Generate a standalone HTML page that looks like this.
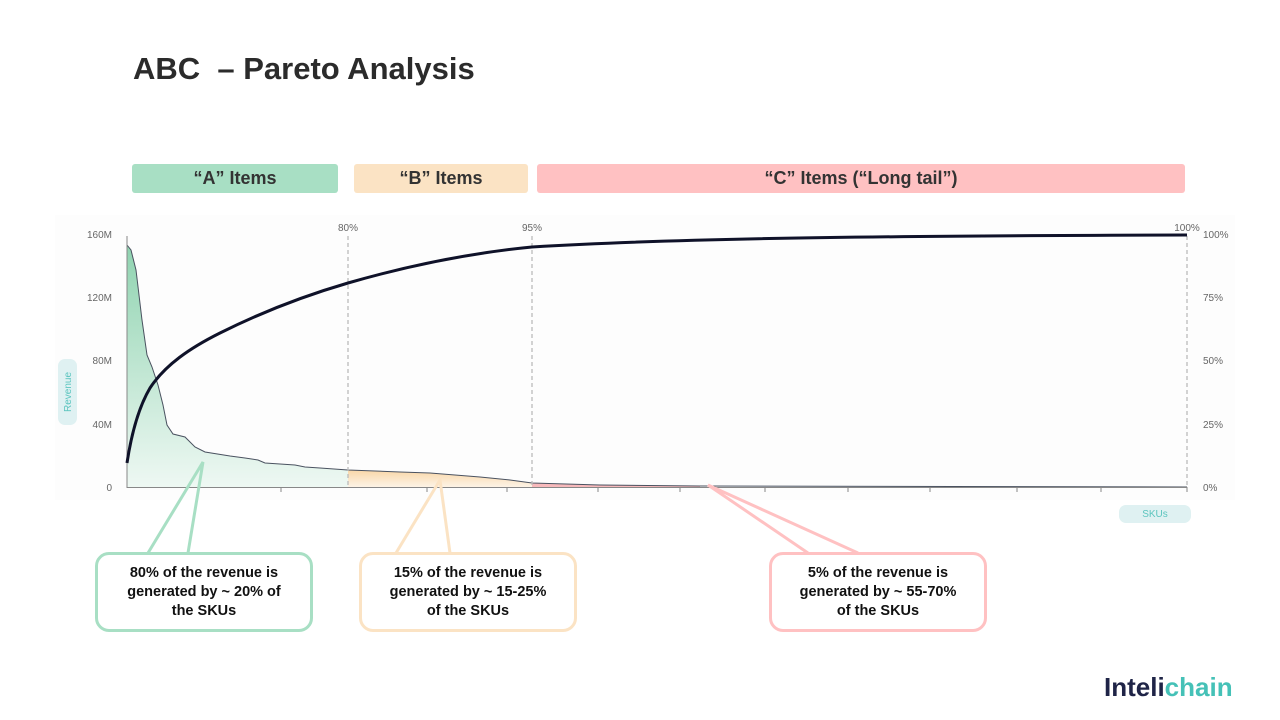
<!DOCTYPE html>
<html><head><meta charset="utf-8"><style>
body{margin:0;width:1280px;height:720px;background:#fff;font-family:"Liberation Sans",sans-serif;position:relative;overflow:hidden}
.t{position:absolute;left:133px;top:51px;font-size:31px;font-weight:bold;color:#2b2b2b}
.band{position:absolute;top:164px;height:29px;border-radius:3px;font-size:18px;font-weight:600;color:#333;text-align:center;line-height:29px}
.box{position:absolute;top:552px;width:212px;height:74px;border:3px solid;border-radius:14px;background:#fff;font-size:14.5px;font-weight:bold;color:#111;text-align:center;display:flex;align-items:center;justify-content:center;line-height:19px}
.logo{position:absolute;left:1104px;top:672px;font-size:26px;font-weight:bold;color:#1f2447}
</style></head><body>
<div class="t">ABC&nbsp; – Pareto Analysis</div>
<div class="band" style="left:132px;width:206px;background:#a8dfc4">“A” Items</div>
<div class="band" style="left:354px;width:174px;background:#fbe3c4">“B” Items</div>
<div class="band" style="left:537px;width:648px;background:#ffc1c2">“C” Items (“Long tail”)</div>
<svg width="1280" height="720" style="position:absolute;left:0;top:0">
<defs>
<linearGradient id="g" x1="0" y1="0" x2="0" y2="1"><stop offset="0" stop-color="#8fd3b0"/><stop offset="1" stop-color="#eef8f3"/></linearGradient>
<linearGradient id="o" x1="0" y1="0" x2="0" y2="1"><stop offset="0" stop-color="#f9d7a8"/><stop offset="1" stop-color="#fdf3e6"/></linearGradient>
</defs>
<rect x="55" y="215" width="1180" height="285" fill="#fdfdfd"/>
<g font-size="10" fill="#666" font-family="Liberation Sans">
<text x="112" y="238" text-anchor="end">160M</text><text x="112" y="301" text-anchor="end">120M</text><text x="112" y="364" text-anchor="end">80M</text><text x="112" y="428" text-anchor="end">40M</text><text x="112" y="491" text-anchor="end">0</text>
<text x="1203" y="238">100%</text><text x="1203" y="301">75%</text><text x="1203" y="364">50%</text><text x="1203" y="428">25%</text><text x="1203" y="491">0%</text>
<text x="348" y="231" text-anchor="middle">80%</text><text x="532" y="231" text-anchor="middle">95%</text><text x="1187" y="231" text-anchor="middle">100%</text>
</g>
<rect x="58" y="359" width="19" height="66" rx="7" fill="#dff1f2"/>
<text x="71" y="392" font-size="10" fill="#5cc5bf" text-anchor="middle" transform="rotate(-90 71 392)">Revenue</text>
<rect x="1119" y="505" width="72" height="18" rx="7" fill="#dff1f2"/>
<text x="1155" y="517" font-size="10" fill="#5cc5bf" text-anchor="middle">SKUs</text>
<path d="M127,245 L131,250 136,270 142,320 147,355 152,367 158,385 163,405 167,425 173,434 185,437 195,447 205,452 230,456 245,458 258,460 265,463 280,464 295,465 305,467 320,468 348,470 L348,487 127,487Z" fill="url(#g)"/>
<path d="M348,470 L400,472 430,473 480,477 510,480 532,483 L532,487 348,487Z" fill="url(#o)"/>
<path d="M532,483 L600,485 700,486 L700,487 532,487Z" fill="#f7b9bb"/>
<path d="M127,245 L131,250 136,270 142,320 147,355 152,367 158,385 163,405 167,425 173,434 185,437 195,447 205,452 230,456 245,458 258,460 265,463 280,464 295,465 305,467 320,468 348,470 400,472 430,473 480,477 510,480 532,483 600,485 700,486 1187,487" fill="none" stroke="#4a5260" stroke-width="1"/>
<g stroke="#bbb" stroke-dasharray="4,3" stroke-width="1.3"><line x1="348" y1="236" x2="348" y2="487"/><line x1="532" y1="236" x2="532" y2="487"/><line x1="1187" y1="236" x2="1187" y2="487"/></g>
<g stroke="#888" stroke-width="1"><line x1="127" y1="236" x2="127" y2="488"/><line x1="127" y1="487.5" x2="1187" y2="487.5"/>
<path d="M281,487v5M427,487v5M507,487v5M598,487v5M680,487v5M765,487v5M848,487v5M930,487v5M1017,487v5M1101,487v5M1187,487v5"/></g>
<path d="M127,463 C132,430 140,405 150,388 C165,365 190,348 220,333 C260,313 300,297 348,283 C400,268 460,254 532,247 C650,240 800,236 1187,235" fill="none" stroke="#0f1229" stroke-width="3"/>
<path d="M148,553 L203,462 L188,553" fill="none" stroke="#a8dfc4" stroke-width="3"/>
<path d="M396,553 L440,480 L450,553" fill="none" stroke="#fbe3c4" stroke-width="3"/>
<path d="M808,553 L708,485 L858,553" fill="none" stroke="#ffc1c2" stroke-width="3"/>
</svg>
<div class="box" style="left:95px;border-color:#a8dfc4">80% of the revenue is<br>generated by ~ 20% of<br>the SKUs</div>
<div class="box" style="left:359px;border-color:#fbe3c4">15% of the revenue is<br>generated by ~ 15-25%<br>of the SKUs</div>
<div class="box" style="left:769px;border-color:#ffc1c2">5% of the revenue is<br>generated by ~ 55-70%<br>of the SKUs</div>
<div class="logo">Inteli<span style="color:#45c1b7">chain</span></div>
</body></html>
